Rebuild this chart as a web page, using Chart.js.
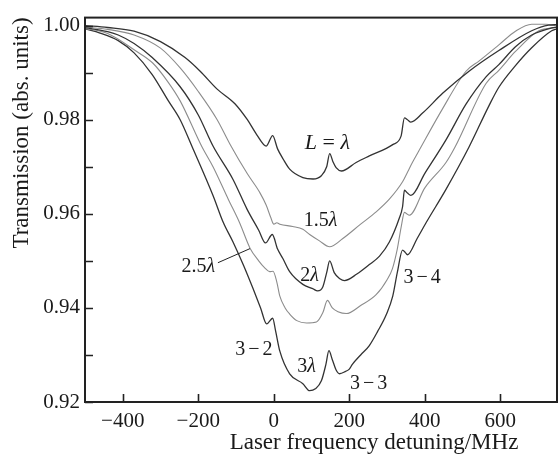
<!DOCTYPE html>
<html>
<head>
<meta charset="utf-8">
<script src="https://cdn.jsdelivr.net/npm/chart.js@4.4.1/dist/chart.umd.min.js"></script>
<style>
  html, body { margin: 0; padding: 0; background: #fff; }
  #wrap { width: 558px; height: 455px; }
</style>
</head>
<body>
<div id="wrap"><canvas id="c" width="558" height="455"></canvas></div>
<script>
// Laser frequency detuning (MHz) and transmission for each cell thickness L
const detL = [-500,-440,-370,-300,-235,-195,-150,-103,-70,-45,-20,-3,10,25,42,77,104,126,140,148,157,165,179,218,253,315,337,346,354,363,394,447,517,596,683,728,750];
const transL = [1.0000,0.9996,0.9988,0.9966,0.9932,0.9903,0.9865,0.9834,0.9800,0.9768,0.9744,0.9766,0.9738,0.9716,0.9695,0.9677,0.9674,0.9681,0.9700,0.9728,0.9710,0.9698,0.9691,0.9709,0.9723,0.9747,0.9765,0.9804,0.9800,0.9795,0.9814,0.9856,0.9903,0.9947,0.9989,1.0001,1.0002];

const det15 = [-500,-440,-370,-300,-248,-200,-150,-116,-70,-37,-20,-8,0,8,16,50,77,95,120,148,182,230,271,306,341,355,367,385,446,509,544,596,640,683,720,750];
const trans15 = [0.9997,0.9992,0.9980,0.9952,0.9910,0.9860,0.9800,0.9748,0.9685,0.9645,0.9618,0.9592,0.9578,0.9581,0.9578,0.9573,0.9567,0.9556,0.9543,0.9530,0.9547,0.9578,0.9604,0.9631,0.9668,0.9690,0.9709,0.9735,0.9822,0.9903,0.9925,0.9959,0.9988,1.0003,1.0003,0.9999];

const det2 = [-500,-440,-412,-370,-322,-248,-200,-161,-108,-71,-40,-22,-4,10,24,42,77,103,116,130,140,148,160,175,187,220,253,280,306,332,341,346,354,363,400,456,509,562,596,640,683,736,750];
const trans2 = [0.9996,0.9987,0.9980,0.9962,0.9932,0.9870,0.9810,0.9744,0.9673,0.9610,0.9565,0.9538,0.9556,0.9525,0.9505,0.9477,0.9450,0.9441,0.9436,0.9445,0.9475,0.9500,0.9475,0.9462,0.9458,0.9472,0.9492,0.9510,0.9540,0.9590,0.9615,0.9650,0.9644,0.9639,0.9686,0.9757,0.9833,0.9891,0.9917,0.9955,0.9980,0.9995,0.9997];

const det25 = [-500,-440,-367,-320,-280,-248,-190,-161,-120,-90,-63,-40,-24,-11,-2,8,16,30,42,61,87,113,130,142,155,170,192,230,271,300,314,327,338,346,352,359,400,456,480,562,596,640,702,750];
const trans25 = [0.9994,0.9983,0.9947,0.9920,0.9880,0.9840,0.9742,0.9700,0.9630,0.9580,0.9527,0.9500,0.9485,0.9477,0.9478,0.9455,0.9425,0.9400,0.9387,0.9373,0.9368,0.9370,0.9390,0.9416,0.9400,0.9392,0.9388,0.9405,0.9428,0.9460,0.9483,0.9525,0.9575,0.9603,0.9600,0.9597,0.9655,0.9709,0.9742,0.9877,0.9905,0.9945,0.9989,0.9996];

const det3 = [-500,-460,-412,-370,-322,-280,-248,-216,-161,-134,-108,-80,-55,-35,-19,-3,5,16,42,77,95,110,126,138,146,155,165,174,190,200,208,230,253,275,298,315,327,341,348,354,380,404,456,517,570,596,640,683,736,750];
const trans3 = [0.9993,0.9984,0.9968,0.9942,0.9896,0.9841,0.9800,0.9742,0.9639,0.9582,0.9540,0.9490,0.9441,0.9400,0.9366,0.9378,0.9350,0.9308,0.9260,0.9239,0.9224,0.9228,0.9245,0.9280,0.9309,0.9290,0.9268,0.9260,0.9265,0.9270,0.9280,0.9300,0.9320,0.9350,0.9386,0.9425,0.9475,0.9523,0.9518,0.9513,0.9548,0.9582,0.9652,0.9742,0.9830,0.9869,0.9915,0.9953,0.9989,0.9993];

const xTickValues = [-400, -200, 0, 200, 400, 600];
const yTickValues = [0.92, 0.94, 0.96, 0.98, 1.00];
const yMinorValues = [0.93, 0.95, 0.97, 0.99];

const SERIF = "'Liberation Serif', 'Times New Roman', serif";
const DARK = '#333333';
const LIGHT = '#8c8c8c';

const series = [
  { name: 'L = λ', x: detL,  y: transL,  color: DARK,  width: 1.3 },
  { name: '1.5λ',  x: det15, y: trans15, color: LIGHT, width: 1.1 },
  { name: '2λ',    x: det2,  y: trans2,  color: DARK,  width: 1.3 },
  { name: '2.5λ',  x: det25, y: trans25, color: LIGHT, width: 1.1 },
  { name: '3λ',    x: det3,  y: trans3,  color: DARK,  width: 1.3 }
];

// Curve and transition labels, placed in data coordinates
const labels = [
  { x: 142, y: 0.9751, size: 22, parts: [{ t: 'L', it: true }, { t: ' = ' }, { t: 'λ', it: true }] },
  { x: 124, y: 0.9585, size: 20, parts: [{ t: '1.5' }, { t: 'λ', it: true }] },
  { x: 95,  y: 0.9469, size: 20, parts: [{ t: '2' }, { t: 'λ', it: true }] },
  { x: -200, y: 0.9488, size: 20, parts: [{ t: '2.5' }, { t: 'λ', it: true }] },
  { x: 87,  y: 0.9275, size: 20, parts: [{ t: '3' }, { t: 'λ', it: true }] },
  { x: -53, y: 0.9311, size: 20, parts: [{ t: '3' }, { t: '−', pre: 3 }, { t: '2', pre: 3 }] },
  { x: 251, y: 0.9239, size: 20, parts: [{ t: '3' }, { t: '−', pre: 3 }, { t: '3', pre: 3 }] },
  { x: 393, y: 0.9465, size: 20, parts: [{ t: '3' }, { t: '−', pre: 3 }, { t: '4', pre: 3 }] }
];
const leader = { x1: -148, y1: 0.9496, x2: -63, y2: 0.9526 };

function fontFor(p, size) {
  return (p.it ? 'italic ' : '') + size + 'px ' + SERIF;
}

function drawRich(ctx, parts, cx, cy, size) {
  let total = 0;
  parts.forEach(p => { ctx.font = fontFor(p, size); total += (p.pre || 0) + ctx.measureText(p.t).width; });
  let x = cx - total / 2;
  ctx.textBaseline = 'middle';
  ctx.textAlign = 'left';
  parts.forEach(p => {
    x += (p.pre || 0);
    ctx.font = fontFor(p, size);
    ctx.fillText(p.t, x, cy);
    x += ctx.measureText(p.t).width;
  });
}

const framePlugin = {
  id: 'frame',
  afterDraw(chart) {
    const { ctx, chartArea: a, scales: { x, y } } = chart;
    ctx.save();
    ctx.strokeStyle = '#222';
    ctx.lineWidth = 2;
    ctx.strokeRect(a.left, a.top, a.right - a.left, a.bottom - a.top);

    // inward tick marks
    ctx.lineWidth = 1.6;
    ctx.beginPath();
    xTickValues.forEach(v => {
      const px = Math.round(x.getPixelForValue(v)) + 0.5;
      ctx.moveTo(px, a.bottom); ctx.lineTo(px, a.bottom - 8);
    });
    yTickValues.concat(yMinorValues).forEach(v => {
      const py = Math.round(y.getPixelForValue(v)) + 0.5;
      ctx.moveTo(a.left, py); ctx.lineTo(a.left + 8, py);
    });
    ctx.stroke();

    // axis titles
    ctx.fillStyle = '#1a1a1a';
    ctx.font = '23px ' + SERIF;
    ctx.textAlign = 'center';
    ctx.textBaseline = 'alphabetic';
    ctx.fillText('Laser frequency detuning/MHz', 374, 449);
    ctx.save();
    ctx.translate(28, 133);
    ctx.rotate(-Math.PI / 2);
    ctx.fillText('Transmission (abs. units)', 0, 0);
    ctx.restore();

    // curve annotations
    labels.forEach(l => drawRich(ctx, l.parts, x.getPixelForValue(l.x), y.getPixelForValue(l.y), l.size));
    ctx.strokeStyle = '#222';
    ctx.lineWidth = 1;
    ctx.beginPath();
    ctx.moveTo(x.getPixelForValue(leader.x1), y.getPixelForValue(leader.y1));
    ctx.lineTo(x.getPixelForValue(leader.x2), y.getPixelForValue(leader.y2));
    ctx.stroke();
    ctx.restore();
  }
};

new Chart(document.getElementById('c'), {
  type: 'line',
  data: {
    datasets: series.map(s => ({
      label: s.name,
      data: s.x.map((v, i) => ({ x: v, y: s.y[i] })),
      borderColor: s.color,
      borderWidth: s.width,
      pointRadius: 0,
      fill: false,
      cubicInterpolationMode: 'monotone'
    }))
  },
  options: {
    responsive: false,
    animation: false,
    layout: { padding: { top: 14, right: 1, left: 0, bottom: 0 } },
    plugins: { legend: { display: false }, tooltip: { enabled: false } },
    scales: {
      x: {
        type: 'linear', min: -500, max: 750,
        afterBuildTicks: s => { s.ticks = xTickValues.map(v => ({ value: v })); },
        afterFit: s => { s.height = 53; },
        grid: { display: false, drawTicks: false },
        border: { display: false },
        ticks: {
          autoSkip: false, maxRotation: 0, padding: 7, color: '#1a1a1a',
          font: { family: SERIF, size: 21 },
          callback: v => (v < 0 ? '\u2212' + Math.abs(v) : String(v))
        }
      },
      y: {
        type: 'linear', min: 0.92, max: 1.0017,
        afterBuildTicks: s => { s.ticks = yTickValues.map(v => ({ value: v })); },
        afterFit: s => { s.width = 85; },
        grid: { display: false, drawTicks: false },
        border: { display: false },
        ticks: {
          autoSkip: false, padding: 5, color: '#1a1a1a',
          font: { family: SERIF, size: 21 },
          callback: v => v.toFixed(2)
        }
      }
    }
  },
  plugins: [framePlugin]
});
</script>
</body>
</html>
